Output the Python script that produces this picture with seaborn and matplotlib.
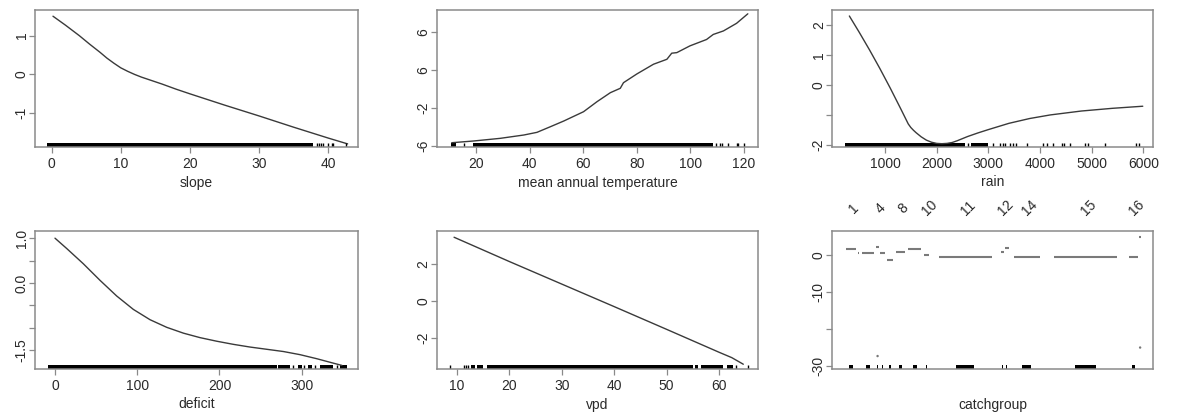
import matplotlib
matplotlib.use("Agg")
import matplotlib.pyplot as plt
import matplotlib.transforms as mtransforms
import numpy as np
import pandas as pd
import seaborn as sns

# ---------------- slope ----------------
slope_x = [0.2, 2, 4, 5.5, 7, 8, 9, 10, 11, 12, 13, 14, 16, 18, 20, 25, 30,
           35, 40, 42.8]
slope_fit = [1.50, 1.27, 1.00, 0.78, 0.57, 0.42, 0.29, 0.17, 0.08, 0.00,
             -0.07, -0.13, -0.25, -0.38, -0.50, -0.79, -1.07, -1.36, -1.64,
             -1.79]
slope_rug_bands = [(-0.7, 37.8)]
slope_rug_ticks = [38.3, 38.7, 39.0, 39.3, 40.0, 40.5, 40.7, 42.5]
slope_xticks = [0, 10, 20, 30, 40]
slope_yticks = [-1, 0, 1]
slope_ylabels = ["-1", "0", "1"]

# ---------------- mean annual temperature ----------------
temp_x = [10.9, 19, 29, 37.8, 42.7, 47.7, 52.7, 60.1, 65.1, 70.1, 73.8, 75,
          80, 86.2, 91.2, 93, 94.9, 99.8, 106, 108.5, 112.3, 117.2, 121.4]
temp_fit = [-5.65, -5.47, -5.19, -4.84, -4.56, -3.97, -3.37, -2.39, -1.34,
            -0.39, 0.07, 0.66, 1.58, 2.6, 3.12, 3.76, 3.82, 4.53, 5.2, 5.73,
            6.1, 6.9, 7.9]
temp_rug_bands = [(10.7, 12.6), (19.0, 108.5)]
temp_rug_ticks = [15.5, 109.7, 111.0, 111.6, 114.1, 117.2, 117.8, 119.9]
temp_xticks = [20, 40, 60, 80, 100, 120]
temp_yticks = [-6, -2, 2, 6]
temp_ylabels = ["-6", "-2", "6", "6"]

# ---------------- rain ----------------
rain_x = [310, 500, 700, 900, 1100, 1300, 1450, 1500, 1550, 1600, 1700,
          1800, 1900, 2000, 2100, 2200, 2300, 2400, 2500, 2600, 2800, 3000,
          3400, 3800, 4200, 4800, 5400, 5990]
rain_fit = [2.30, 1.76, 1.17, 0.55, -0.10, -0.78, -1.30, -1.42, -1.51,
            -1.59, -1.73, -1.84, -1.91, -1.95, -1.96, -1.95, -1.92, -1.86,
            -1.79, -1.72, -1.60, -1.49, -1.28, -1.12, -1.00, -0.87, -0.78,
            -0.71]
rain_rug_bands = [(226, 2548), (2658, 2999)]
rain_rug_ticks = [2600, 3097, 3226, 3277, 3323, 3419, 3484, 3535, 3742, 4064,
                  4129, 4258, 4419, 4471, 4581, 4871, 4935, 5258, 5858, 5916]
rain_xticks = [1000, 2000, 3000, 4000, 5000, 6000]
rain_yticks = [-2, -1, 0, 1, 2]
rain_ylabels = ["-2", "", "0", "1", "2"]

# ---------------- deficit ----------------
deficit_x = [0, 14.2, 34.4, 54.7, 75, 95.3, 115.6, 135.9, 156.2, 176.4,
             196.7, 217, 237.2, 257.5, 277.8, 298, 318.3, 338.6, 349]
deficit_fit = [1.0, 0.77, 0.43, 0.06, -0.29, -0.59, -0.82, -0.99, -1.12,
               -1.22, -1.30, -1.37, -1.43, -1.48, -1.53, -1.60, -1.69,
               -1.79, -1.84]
deficit_rug_bands = [(-8, 270), (271.6, 285.8), (296, 300), (308, 312.2),
                     (322.3, 338.5), (346.6, 354.7)]
deficit_rug_ticks = [289.9, 302.8, 316.2, 342.6]
deficit_xticks = [0, 100, 200, 300]
deficit_yticks = [-1.5, -1.0, -0.5, 0.0, 0.5, 1.0]
deficit_ylabels = ["-1.5", "", "", "0.0", "", "1.0"]

# ---------------- vpd ----------------
vpd_x = [9.5, 20, 30, 40, 50, 60, 62.4, 64.6]
vpd_fit = [3.47, 2.15, 0.92, -0.31, -1.55, -2.80, -3.09, -3.45]
vpd_rug_bands = [(12.66, 13.48), (13.8, 15.07), (15.7, 55.0), (55.4, 56.0),
                 (56.6, 60.75), (61.4, 62.66)]
vpd_rug_ticks = [8.72, 11.39, 11.77, 12.2, 63.3, 65.5]
vpd_xticks = [10, 20, 30, 40, 50, 60]
vpd_yticks = [-2, 0, 2]
vpd_ylabels = ["-2", "0", "2"]

# ---------------- catchgroup (factor term) ----------------
catch_levels = ["1", "2", "3", "4", "5", "6", "8", "9", "10", "11", "12",
                "13", "14", "15", "16", "17"]
catch_counts = [14, 2, 16, 4, 6, 9, 12, 17, 7, 71, 4, 5, 35, 84, 12, 2]
catch_effects = [1.7, 0.46, 0.46, 2.16, 0.46, -1.35, 0.9, 1.7, 0.0, -0.46,
                 0.9, 1.8, -0.46, -0.46, -0.46, 4.8]
catch_shown = ["1", "4", "8", "10", "11", "12", "14", "15", "16"]
catch_point_levels = ["4", "17"]
catch_point_values = [-27.3, -25.0]
catch_yticks = [-30, -20, -10, 0]
catch_ylabels = ["-30", "", "-10", "0"]

# ---------------- styling ----------------
sns.set_theme(style="white")
plt.rcParams["font.family"] = ["Liberation Sans", "DejaVu Sans"]
plt.rcParams["axes.unicode_minus"] = False

TEXT = "#2a2a2a"
FRAME = "#8a8a8a"
CURVE = "#3a3a3a"
FS = 10

W, H = 1183, 417
fig = plt.figure(figsize=(W / 100, H / 100), dpi=100)


def add_axes(left, top, right, bottom):
    return fig.add_axes([left / W, 1 - bottom / H, (right - left) / W,
                         (bottom - top) / H])


def style_axes(ax, xticks, yticks, ylabels, xlabel):
    for sp in ax.spines.values():
        sp.set_visible(True)
        sp.set_color(FRAME)
        sp.set_linewidth(1.1)
    ax.set_yticks(yticks)
    ax.set_yticklabels(ylabels)
    if xticks is None:
        ax.set_xticks([])
    else:
        ax.set_xticks(xticks)
        ax.set_xticklabels([str(t) for t in xticks])
    ax.tick_params(axis="both", direction="out", length=4.5, width=0.9,
                   color=FRAME, labelcolor=TEXT, labelsize=FS,
                   left=True, bottom=xticks is not None, top=False,
                   right=False)
    ax.tick_params(axis="x", pad=3)
    ax.tick_params(axis="y", pad=0, labelrotation=90)
    for lbl in ax.get_yticklabels():
        lbl.set_va("center")
    ax.set_xlabel(xlabel, fontsize=FS, color=TEXT)
    ax.xaxis.set_label_coords(0.5, -35.5 / (ax.bbox.height))
    ax.xaxis.label.set_va("center")
    ax.set_ylabel("")
    ax.grid(False)


def draw_rug(ax, bands, ticks):
    for x0, x1 in bands:
        ax.axvspan(x0, x1, ymin=0, ymax=0.03, color="black", lw=0)
    sns.rugplot(x=ticks, height=0.03, color="black", lw=1.1,
                expand_margins=False, ax=ax)


def smooth_panel(box, x, fit, bands, ticks, xlim, ylim, xticks, yticks,
                 ylabels, xlabel):
    ax = add_axes(*box)
    df = pd.DataFrame({"x": x, "fit": fit})
    sns.lineplot(data=df, x="x", y="fit", color=CURVE, lw=1.0, ax=ax,
                 estimator=None, sort=True)
    draw_rug(ax, bands, ticks)
    ax.set_xlim(*xlim)
    ax.set_ylim(*ylim)
    style_axes(ax, xticks, yticks, ylabels, xlabel)
    return ax


smooth_panel((35, 10, 358, 147), slope_x, slope_fit, slope_rug_bands,
             slope_rug_ticks, (-2.4, 44.3), (-1.87, 1.66), slope_xticks,
             slope_yticks, slope_ylabels, "slope")
smooth_panel((437, 10, 758, 147), temp_x, temp_fit, temp_rug_bands,
             temp_rug_ticks, (5.4, 125.2), (-6.1, 8.3), temp_xticks,
             temp_yticks, temp_ylabels, "mean annual temperature")
smooth_panel((832, 10, 1153, 147), rain_x, rain_fit, rain_rug_bands,
             rain_rug_ticks, (-26, 6188), (-2.07, 2.5), rain_xticks,
             rain_yticks, rain_ylabels, "rain")
smooth_panel((35, 231, 358, 369), deficit_x, deficit_fit, deficit_rug_bands,
             deficit_rug_ticks, (-24.3, 368.5), (-1.92, 1.16),
             deficit_xticks, deficit_yticks, deficit_ylabels, "deficit")
smooth_panel((437, 231, 758, 369), vpd_x, vpd_fit, vpd_rug_bands,
             vpd_rug_ticks, (6.25, 67.4), (-3.71, 3.81), vpd_xticks,
             vpd_yticks, vpd_ylabels, "vpd")

# factor term: each level occupies a width proportional to its count
ax = add_axes(832, 231, 1153, 369)
counts = np.array(catch_counts, dtype=float)
right = np.cumsum(counts)
left = right - counts
centre = (left + right) / 2
delta = counts / 8
total = right[-1]
ax.hlines(catch_effects, left + delta, right - delta, color="#7a7a7a", lw=1.5)
for c, d in zip(centre, delta):
    ax.axvspan(c - d, c + d, ymin=0, ymax=0.03, color="black", lw=0)
pt_x = [centre[catch_levels.index(l)] for l in catch_point_levels]
sns.scatterplot(x=pt_x, y=catch_point_values, s=3, color="#777777",
                edgecolor="none", ax=ax)
ax.set_xlim(-0.04 * total, 1.04 * total)
ax.set_ylim(-30.8, 6.5)
style_axes(ax, None, catch_yticks, catch_ylabels, "catchgroup")
lab_tr = mtransforms.offset_copy(ax.get_xaxis_transform(), fig=fig,
                                 x=3, y=23, units="dots")
for lab in catch_shown:
    i = catch_levels.index(lab)
    ax.text(centre[i], 1.0, lab, transform=lab_tr, rotation=45,
            ha="center", va="center", fontsize=FS, color=TEXT)

fig.savefig("out.png", dpi=100, facecolor="white")
